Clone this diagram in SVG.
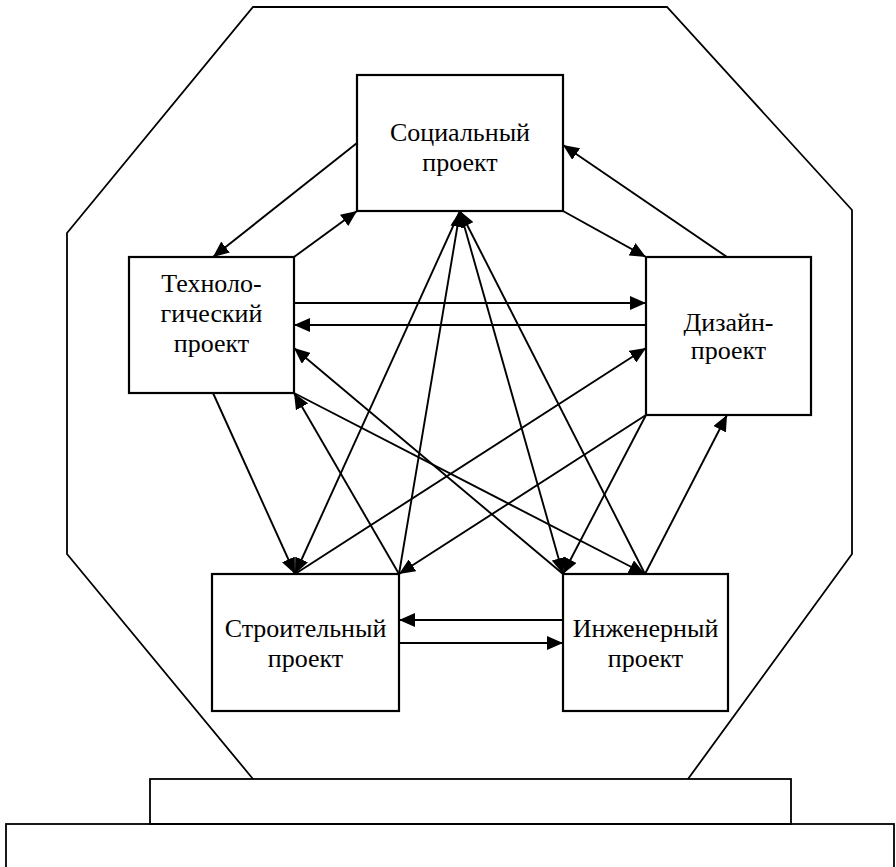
<svg xmlns="http://www.w3.org/2000/svg" width="896" height="867" viewBox="0 0 896 867">
<style>
.frame{fill:none;stroke:#000;stroke-width:1.8}
.box{fill:#fff;stroke:#000;stroke-width:2.2}
.lbl{font-family:"Liberation Serif","Times New Roman","DejaVu Serif",serif;font-size:26px;fill:#000;text-anchor:middle}
.c{stroke:#000;stroke-width:1.9;fill:none}
.a{marker-end:url(#ah)}
</style>
<defs>
<marker id="ah" markerUnits="userSpaceOnUse" markerWidth="18" markerHeight="14" refX="16" refY="7" orient="auto">
<path d="M0,0 L16,7 L0,14 z" fill="#000"/>
</marker>
</defs>
<rect width="896" height="867" fill="#fff"/>
<g id="frame">
<polyline class="frame" points="253,779 67,554 67,233 253,7 667,7 852,210 852,554 688,779"/>
<rect class="frame" x="150" y="779" width="641" height="45"/>
<rect class="frame" x="6" y="824" width="888" height="60"/>
</g>
<g id="connectors">
<line class="c a" x1="357" y1="143" x2="213" y2="257"/>
<line class="c a" x1="294" y1="257" x2="357" y2="211"/>
<line class="c a" x1="727" y1="257" x2="563" y2="145"/>
<line class="c a" x1="563" y1="211" x2="646" y2="257"/>
<line class="c a" x1="294" y1="303" x2="646" y2="303"/>
<line class="c a" x1="646" y1="325" x2="294" y2="325"/>
<line class="c a" x1="563" y1="620" x2="399" y2="620"/>
<line class="c a" x1="399" y1="643" x2="563" y2="643"/>
<line class="c a" x1="460" y1="211" x2="295" y2="574"/>
<line class="c a" x1="399" y1="574" x2="460" y2="211"/>
<line class="c a" x1="460" y1="211" x2="563" y2="574"/>
<line class="c a" x1="645" y1="574" x2="460" y2="211"/>
<line class="c a" x1="213" y1="393" x2="295" y2="574"/>
<line class="c a" x1="399" y1="574" x2="294" y2="393"/>
<line class="c a" x1="563" y1="574" x2="294" y2="348"/>
<line class="c a" x1="294" y1="393" x2="645" y2="574"/>
<line class="c a" x1="295" y1="574" x2="646" y2="348"/>
<line class="c a" x1="646" y1="415" x2="399" y2="574"/>
<line class="c a" x1="646" y1="415" x2="563" y2="574"/>
<line class="c a" x1="645" y1="574" x2="727" y2="415"/>
</g>
<g id="social">
<rect class="box" x="357" y="75" width="206" height="136"/>
<text class="lbl" x="460" y="141">Социальный</text>
<text class="lbl" x="460" y="171">проект</text>
</g>
<g id="tech">
<rect class="box" x="129" y="257" width="165" height="136"/>
<text class="lbl" x="211.5" y="292">Техноло-</text>
<text class="lbl" x="211.5" y="322">гический</text>
<text class="lbl" x="211.5" y="352">проект</text>
</g>
<g id="design">
<rect class="box" x="646" y="257" width="165" height="158"/>
<text class="lbl" x="728.5" y="331">Дизайн-</text>
<text class="lbl" x="728.5" y="359">проект</text>
</g>
<g id="constr">
<rect class="box" x="212" y="574" width="187" height="137"/>
<text class="lbl" x="305.5" y="637">Строительный</text>
<text class="lbl" x="305.5" y="667">проект</text>
</g>
<g id="eng">
<rect class="box" x="563" y="574" width="165" height="137"/>
<text class="lbl" x="645.5" y="637">Инженерный</text>
<text class="lbl" x="645.5" y="667">проект</text>
</g>
</svg>
